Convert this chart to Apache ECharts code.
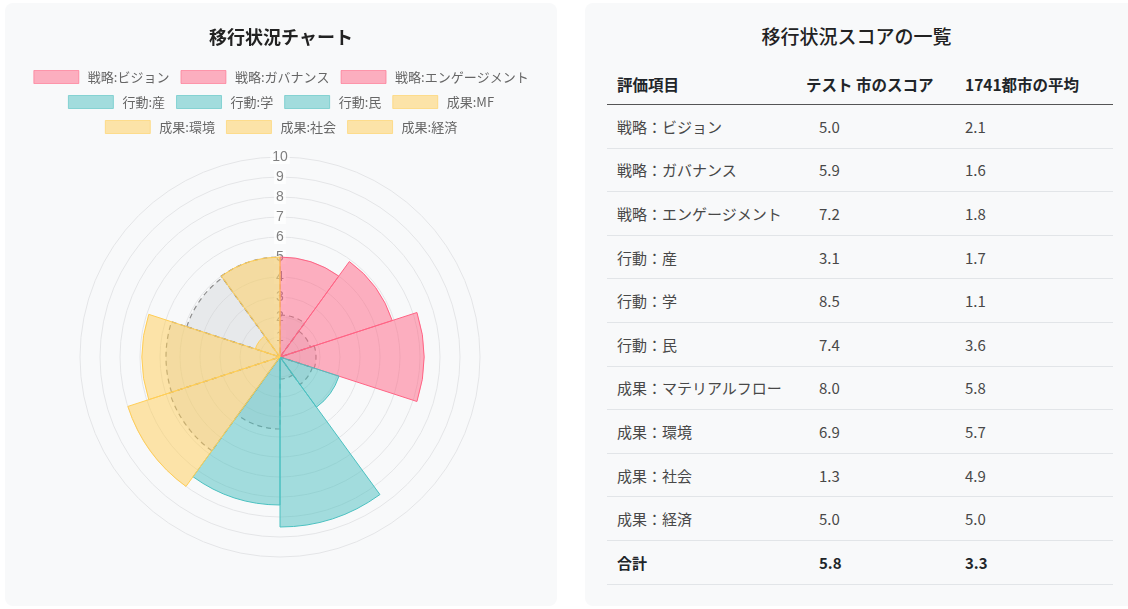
<!DOCTYPE html>
<html>
<head>
<meta charset="utf-8">
<script src="https://cdn.jsdelivr.net/npm/echarts@6/dist/echarts.min.js"></script>
<style>
  body { margin: 0; background: #fff; font-family: "Noto Sans CJK JP", "Noto Sans", sans-serif; }
  .card { position: absolute; top: 3px; height: 603px; background: #f8f9fa; border-radius: 8px; }
  #left { left: 5px; width: 552px; }
  #right { left: 585px; width: 550px; }
  #chart { width: 552px; height: 603px; }
  #right h5 { position: absolute; left: 0; width: 543px; top: 19px; margin: 0; text-align: center; font-size: 19px; font-weight: 500; color: #222; line-height: 28px; }
  table { position: absolute; left: 22px; top: 60px; width: 506px; border-collapse: collapse; }
  th { height: 41px; font-size: 15.5px; font-weight: bold; color: #212529; text-align: left; border-bottom: 1px solid #555; padding: 0; }
  td { height: 42.6px; font-size: 15px; color: #484848; border-bottom: 1px solid #e2e5e8; padding: 0; }
  .c1 { width: 183px; padding-left: 10px; }
  .c2h { width: 152px; padding-left: 6px; }
  .c2 { padding-left: 19px; }
  .c3 { padding-left: 7px; }
  tr.total td { font-weight: bold; color: #212529; }
</style>
</head>
<body>
<div class="card" id="left"><div id="chart"></div></div>
<div class="card" id="right">
  <h5>移行状況スコアの一覧</h5>
  <table id="tbl"></table>
</div>
<script>
// 凡例のラベル（チャート）
const categories = ['戦略:ビジョン', '戦略:ガバナンス', '戦略:エンゲージメント', '行動:産', '行動:学', '行動:民', '成果:MF', '成果:環境', '成果:社会', '成果:経済'];
// 表の評価項目
const tableLabels = ['戦略：ビジョン', '戦略：ガバナンス', '戦略：エンゲージメント', '行動：産', '行動：学', '行動：民', '成果：マテリアルフロー', '成果：環境', '成果：社会', '成果：経済'];
const cityScores = [5.0, 5.9, 7.2, 3.1, 8.5, 7.4, 8.0, 6.9, 1.3, 5.0];
const averageScores = [2.1, 1.6, 1.8, 1.7, 1.1, 3.6, 5.8, 5.7, 4.9, 5.0];
const totalRow = ['合計', 5.8, 3.3];
const tableHeader = ['評価項目', 'テスト 市のスコア', '1741都市の平均'];
const groups = ['pink', 'pink', 'pink', 'teal', 'teal', 'teal', 'yellow', 'yellow', 'yellow', 'yellow'];
const legendRows = [[0, 1, 2], [3, 4, 5, 6], [7, 8, 9]];

const palette = {
    pink: { fill: 'rgba(255,99,132,0.5)', line: 'rgb(255,99,132)', soft: 'rgba(255,99,132,0.55)' },
    teal: { fill: 'rgba(75,192,192,0.5)', line: 'rgb(75,192,192)', soft: 'rgba(75,192,192,0.55)' },
    yellow: { fill: 'rgba(255,205,86,0.5)', line: 'rgb(255,205,86)', soft: 'rgba(255,205,86,0.55)' }
};

const chart = echarts.init(document.getElementById('chart'));

// 平均（グレー・破線）を下に描く
let series = [{
    name: '平均',
    type: 'bar',
    coordinateSystem: 'polar',
    barGap: '-100%',
    barCategoryGap: '0%',
    data: averageScores,
    itemStyle: { color: 'rgba(201,203,207,0.35)', borderColor: 'rgba(130,130,130,0.9)', borderWidth: 1.2, borderType: [5, 4] },
    z: 1
}];
categories.forEach(function (name, i) {
    series.push({
        name: name,
        type: 'bar',
        coordinateSystem: 'polar',
        barGap: '-100%',
        barCategoryGap: '0%',
        data: categories.map(function (_, j) { return j === i ? cityScores[i] : null }),
        itemStyle: { color: palette[groups[i]].fill, borderColor: palette[groups[i]].line, borderWidth: 1 },
        z: 2
    })
});

let legends = legendRows.map(function (row, k) {
    return {
        data: row.map(function (i) {
            return { name: categories[i], itemStyle: { borderColor: palette[groups[i]].soft, borderWidth: 1 } }
        }),
        left: 'center',
        top: 62 + k * 25,
        icon: 'rect',
        itemWidth: 45,
        itemHeight: 13,
        itemGap: 11,
        textStyle: { fontSize: 13, color: '#666', fontFamily: 'Noto Sans CJK JP', padding: [0, 0, 0, 4] }
    }
});

let option = {
    title: {
        text: '移行状況チャート',
        left: 'center',
        top: 20,
        textStyle: { fontSize: 18, fontWeight: 'bold', color: '#222', fontFamily: 'Noto Sans CJK JP' }
    },
    legend: legends,
    polar: { center: [275, 354], radius: [0, 200] },
    angleAxis: {
        type: 'category',
        data: categories,
        startAngle: 90,
        axisLine: { show: false },
        axisTick: { show: false },
        axisLabel: { show: false },
        splitLine: { show: false }
    },
    radiusAxis: {
        min: 0,
        max: 10,
        interval: 1,
        axisLine: { show: false },
        axisTick: { show: false },
        splitLine: { lineStyle: { color: '#e4e5e7', width: 1 } },
        axisLabel: {
            showMinLabel: false,
            color: '#808080',
            fontSize: 14,
            margin: 0,
            align: 'center',
            verticalAlign: 'middle',
            backgroundColor: 'rgba(255,255,255,0.75)',
            padding: [0, 2]
        }
    },
    series: series
};
chart.setOption(option);

// 表
let html = '<thead><tr><th class="c1">' + tableHeader[0] + '</th><th class="c2h">' + tableHeader[1] + '</th><th class="c3">' + tableHeader[2] + '</th></tr></thead><tbody>';
tableLabels.forEach(function (label, i) {
    html += '<tr><td class="c1">' + label + '</td><td class="c2">' + cityScores[i].toFixed(1) + '</td><td class="c3">' + averageScores[i].toFixed(1) + '</td></tr>';
});
html += '<tr class="total"><td class="c1">' + totalRow[0] + '</td><td class="c2">' + totalRow[1].toFixed(1) + '</td><td class="c3">' + totalRow[2].toFixed(1) + '</td></tr></tbody>';
document.getElementById('tbl').innerHTML = html;
</script>
</body>
</html>
